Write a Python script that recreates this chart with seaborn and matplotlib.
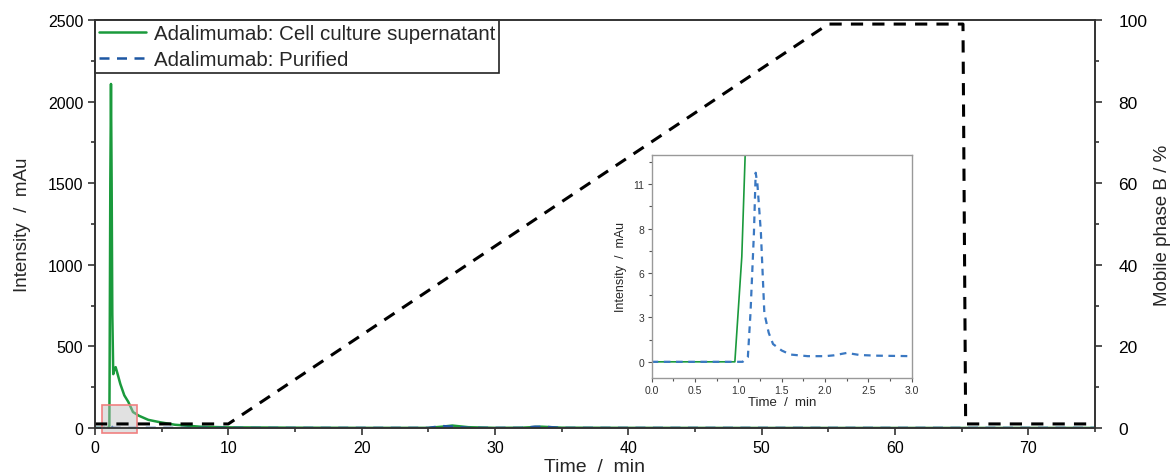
import numpy as np
import pandas as pd
import seaborn as sns
import matplotlib.pyplot as plt
from matplotlib.ticker import MultipleLocator, FixedLocator
from matplotlib.patches import Rectangle

# chromatogram: cell culture supernatant (green)
t_sup = [0, 0.96, 1.04, 1.08, 1.1, 1.15, 1.2, 1.25, 1.3, 1.37, 1.45, 1.55, 1.7, 1.9,
         2.2, 2.5, 2.85, 3.3, 4.0, 4.9, 6.0, 7.9, 10, 15, 20, 25, 26, 26.8, 28, 30,
         32, 33.5, 35, 40, 50, 75]
i_sup = [0, 0, 6.5, 13, 400, 1500, 2108, 1500, 700, 330, 360, 373, 330, 270,
         200, 160, 98, 75, 50, 35, 20, 8, 4, 2, 1, 1, 8, 15, 5, 1,
         2, 8, 2, 1, 0.5, 0.5]

# chromatogram: purified (blue dashed)
t_pur = [0, 1.05, 1.11, 1.14, 1.18, 1.2, 1.22, 1.26, 1.3, 1.35, 1.4, 1.5, 1.6, 1.8,
         2.0, 2.1, 2.25, 2.4, 2.6, 3.0, 10, 25, 26, 27, 28, 32, 33, 34, 35, 75]
i_pur = [0, 0, 0.3, 3, 8, 11.7, 11, 8, 3, 1.8, 1.1, 0.7, 0.45, 0.35,
         0.35, 0.4, 0.55, 0.42, 0.38, 0.35, 0.3, 0.5, 12, 8, 1, 0.5, 8, 6, 0.5, 0.3]

# gradient, mobile phase B
t_grad = [0, 10, 55, 65.1, 65.3, 75]
b_grad = [1, 1, 99, 99, 1, 1]

inset_yticks = [0, 2.75, 5.5, 8.25, 11]
inset_ylabels = ['0', '3', '6', '8', '11']

green = '#1a9a3c'
blue = '#1d57a3'

sns.set_style('ticks')
plt.rcParams['font.family'] = ['Liberation Sans', 'DejaVu Sans']
plt.rcParams['axes.edgecolor'] = '#333333'
plt.rcParams['xtick.color'] = '#333333'
plt.rcParams['ytick.color'] = '#333333'
plt.rcParams['xtick.labelcolor'] = 'black'
plt.rcParams['ytick.labelcolor'] = 'black'

sup = pd.DataFrame({'t': t_sup, 'i': i_sup})
pur = pd.DataFrame({'t': t_pur, 'i': i_pur})
grad = pd.DataFrame({'t': t_grad, 'b': b_grad})

fig = plt.figure(figsize=(11.74, 4.77), dpi=100)
ax = fig.add_axes([0.0809, 0.1006, 0.8518, 0.8554])

sns.lineplot(data=sup, x='t', y='i', ax=ax, color=green, lw=1.8, sort=False,
             estimator=None, label='Adalimumab: Cell culture supernatant')
sns.lineplot(data=pur, x='t', y='i', ax=ax, color=blue, lw=1.8, sort=False,
             estimator=None, label='Adalimumab: Purified', linestyle=(0, (4, 3)))

ax.set_xlim(0, 75)
ax.set_ylim(0, 2500)
ax.xaxis.set_major_locator(MultipleLocator(10))
ax.xaxis.set_minor_locator(MultipleLocator(5))
ax.yaxis.set_major_locator(MultipleLocator(500))
ax.yaxis.set_minor_locator(MultipleLocator(250))
ax.tick_params(axis='both', which='major', labelsize=11.5, length=5, width=1.2, direction='out')
ax.tick_params(axis='both', which='minor', length=3, width=1.2, direction='out')
ax.set_xlabel('Time  /  min', fontsize=14, labelpad=2)
ax.set_ylabel('Intensity  /  mAu', fontsize=13.5)
ax.yaxis.set_label_coords(-0.064, 0.5)
for s in ax.spines.values():
    s.set_linewidth(1.2)

# zoom marker box
ax.add_patch(Rectangle((0.5, -30), 2.65, 170, facecolor='#bdbdbd', alpha=0.45,
                       edgecolor='none', clip_on=False, zorder=5))
ax.add_patch(Rectangle((0.5, -30), 2.65, 170, facecolor='none', edgecolor='#f08080',
                       lw=1.2, clip_on=False, zorder=6))

leg = ax.legend(loc='upper left', borderaxespad=0, fontsize=14.8, handlelength=2.3,
                frameon=True, fancybox=False, borderpad=0.2, labelspacing=0.35,
                handletextpad=0.35)
leg.get_frame().set_edgecolor('#222222')
leg.get_frame().set_linewidth(1.2)
leg.get_frame().set_alpha(1)

ax2 = ax.twinx()
sns.lineplot(data=grad, x='t', y='b', ax=ax2, color='black', lw=2.2, sort=False,
             estimator=None, linestyle=(0, (4, 3)))
ax2.set_ylim(0, 100)
ax2.yaxis.set_major_locator(MultipleLocator(20))
ax2.yaxis.set_minor_locator(MultipleLocator(10))
ax2.tick_params(axis='y', which='major', labelsize=12.5, length=5, width=1.2, direction='out', pad=12)
ax2.tick_params(axis='y', which='minor', length=3, width=1.2, direction='out')
ax2.set_ylabel('Mobile phase B / %', fontsize=13.5)
ax2.yaxis.set_label_coords(1.059, 0.5)
for s in ax2.spines.values():
    s.set_linewidth(1.2)

# inset
axi = fig.add_axes([0.555, 0.2055, 0.2217, 0.4675])
axi.set_zorder(10)
sns.lineplot(data=sup, x='t', y='i', ax=axi, color=green, lw=1.2, sort=False,
             estimator=None, legend=False)
sns.lineplot(data=pur, x='t', y='i', ax=axi, color='#3a78c2', lw=1.6, sort=False,
             estimator=None, legend=False, linestyle=(0, (3, 2.5)))
axi.set_xlim(0, 3)
axi.set_ylim(-1, 12.8)
axi.xaxis.set_major_locator(MultipleLocator(0.5))
axi.xaxis.set_minor_locator(MultipleLocator(0.25))
axi.set_xticklabels([f'{v:.1f}' for v in axi.get_xticks()])
axi.yaxis.set_major_locator(FixedLocator(inset_yticks))
axi.set_yticklabels(inset_ylabels)
axi.yaxis.set_minor_locator(FixedLocator([1.375, 4.125, 6.875, 9.625, 12.375]))
axi.tick_params(axis='both', which='major', labelsize=7.5, length=3, width=0.8, colors='#555555',
                labelcolor='#333333', pad=2)
axi.tick_params(axis='both', which='minor', length=2, width=0.8, colors='#555555')
axi.set_xlabel('Time  /  min', fontsize=9.5, labelpad=1)
axi.set_ylabel('Intensity  /  mAu', fontsize=9, labelpad=5)
for s in axi.spines.values():
    s.set_color('#999999')
    s.set_linewidth(1)

fig.savefig('out.png', dpi=100)
